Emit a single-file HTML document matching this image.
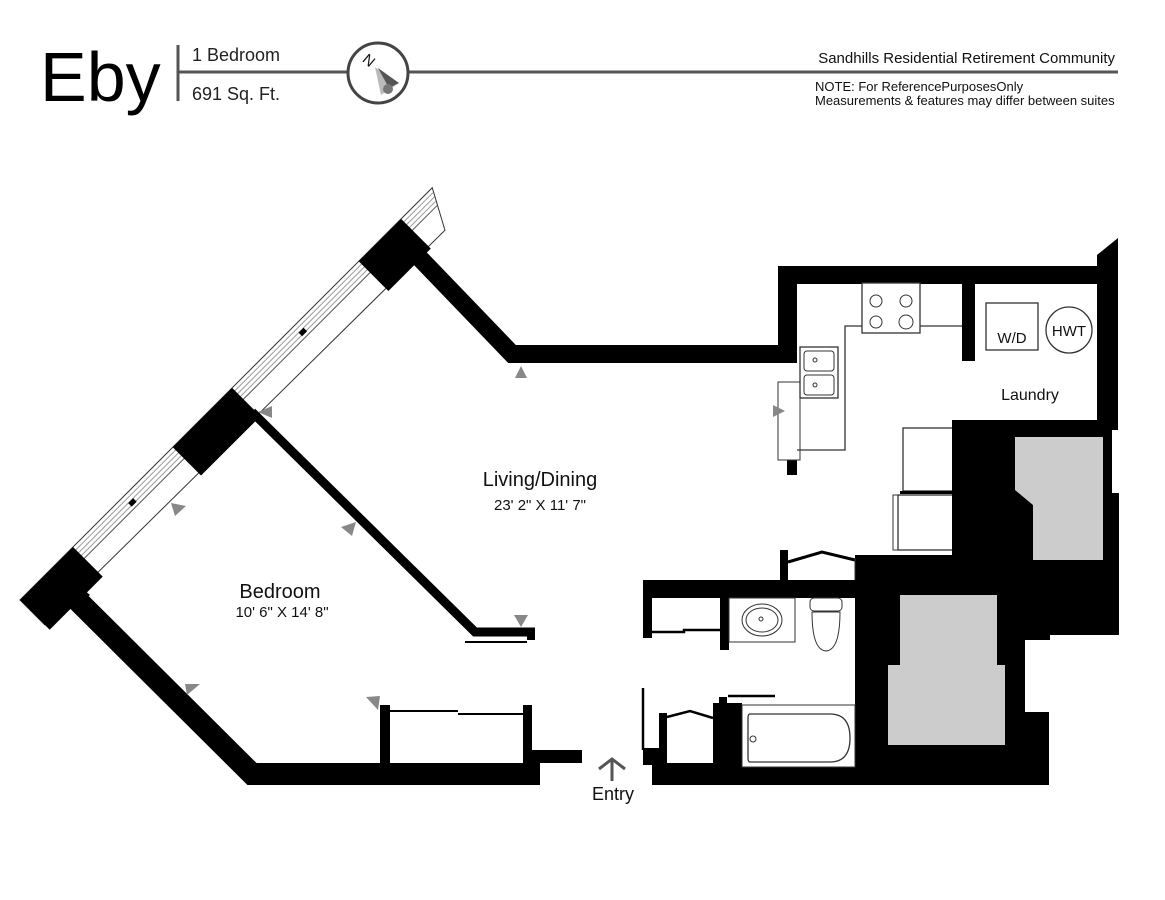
<!DOCTYPE html>
<html><head><meta charset="utf-8"><style>
html,body{margin:0;padding:0;background:#fff;}
svg{display:block;font-family:"Liberation Sans",sans-serif;}
</style></head><body>
<svg width="1165" height="900" viewBox="0 0 1165 900" xmlns="http://www.w3.org/2000/svg">
<!-- header -->
<text x="40" y="101" font-size="70" fill="#000">Eby</text>
<line x1="178" y1="45" x2="178" y2="101" stroke="#555" stroke-width="3"/>
<line x1="178" y1="72" x2="1118" y2="72" stroke="#555" stroke-width="3"/>
<text x="192" y="61" font-size="18" fill="#222">1 Bedroom</text>
<text x="192" y="100" font-size="18" fill="#222">691 Sq. Ft.</text>
<circle cx="378" cy="73" r="30" fill="#fff" stroke="#444" stroke-width="3"/>
<polygon points="375,67 399,83 381,95" fill="#bbb"/>
<polygon points="378,68 399,83 389,88" fill="#555"/>
<circle cx="388" cy="89" r="5" fill="#777"/>
<text x="364" y="66" font-size="15" fill="#111" transform="rotate(40 370 60)">N</text>
<text x="1115" y="63" font-size="15" fill="#111" text-anchor="end">Sandhills Residential Retirement Community</text>
<text x="815" y="91" font-size="13" fill="#111">NOTE:  For ReferencePurposesOnly</text>
<text x="815" y="105" font-size="13" fill="#111">Measurements &amp; features may differ between suites</text>

<!-- window band along diagonal -->
<g transform="translate(20,600) rotate(-45)">
  <polygon points="0,0 583,0 562,39 0,35" fill="#fff" stroke="#333" stroke-width="1"/>
  <line x1="0" y1="4" x2="580" y2="4" stroke="#999" stroke-width="1"/>
  <line x1="0" y1="8" x2="578" y2="8" stroke="#999" stroke-width="1"/>
  <line x1="0" y1="12" x2="576" y2="12" stroke="#999" stroke-width="1"/>
  <line x1="0" y1="16" x2="574" y2="16" stroke="#555" stroke-width="1"/>
  <rect x="0" y="0" width="75" height="42" fill="#000"/>
  <rect x="216" y="0" width="84" height="40" fill="#000"/>
  <rect x="479" y="0" width="60" height="42" fill="#000"/>
  <rect x="145" y="8" width="7" height="5" fill="#000"/>
  <rect x="386" y="8" width="7" height="5" fill="#000"/>
</g>
<polygon points="20,600 55,565 90,595 66,612" fill="#000"/>

<!-- bedroom outer walls -->
<polyline points="72,595 252,774 540,774" fill="none" stroke="#000" stroke-width="22"/>
<rect x="530" y="750" width="52" height="13" fill="#000"/>
<!-- partition -->
<polyline points="252,412 475,632 535,632" fill="none" stroke="#000" stroke-width="9"/>
<rect x="527" y="628" width="8" height="12" fill="#000"/>
<line x1="465" y1="642" x2="527" y2="642" stroke="#000" stroke-width="2"/>
<!-- bedroom closet -->
<rect x="380" y="705" width="10" height="60" fill="#000"/>
<rect x="523" y="705" width="9" height="60" fill="#000"/>
<line x1="390" y1="711" x2="458" y2="711" stroke="#000" stroke-width="2"/>
<line x1="458" y1="714" x2="523" y2="714" stroke="#000" stroke-width="2"/>

<!-- living top wall -->
<polyline points="412,250 512,354 790,354" fill="none" stroke="#000" stroke-width="18"/>
<!-- kitchen walls -->
<rect x="778" y="266" width="322" height="18" fill="#000"/>
<rect x="778" y="266" width="19" height="97" fill="#000"/>
<polygon points="1097,255 1118,238 1118,430 1097,430" fill="#000"/>
<rect x="962" y="283" width="13" height="78" fill="#000"/>
<rect x="787" y="455" width="10" height="20" fill="#000"/>
<rect x="778" y="382" width="22" height="78" fill="#fff" stroke="#333" stroke-width="1"/>
<!-- counters -->
<polyline points="962,326 845,326 845,450 797,450" fill="none" stroke="#333" stroke-width="1.3"/>
<rect x="862" y="283" width="58" height="50" fill="#fff" stroke="#333" stroke-width="1.3"/>
<circle cx="876" cy="301" r="6" fill="none" stroke="#333"/>
<circle cx="906" cy="301" r="6" fill="none" stroke="#333"/>
<circle cx="876" cy="322" r="6" fill="none" stroke="#333"/>
<circle cx="906" cy="322" r="7" fill="none" stroke="#333"/>
<rect x="800" y="347" width="38" height="51" fill="#fff" stroke="#333" stroke-width="1.3"/>
<rect x="804" y="351" width="30" height="20" rx="3" fill="none" stroke="#333"/>
<rect x="804" y="375" width="30" height="20" rx="3" fill="none" stroke="#333"/>
<circle cx="815" cy="360" r="2" fill="none" stroke="#333"/>
<circle cx="815" cy="385" r="2" fill="none" stroke="#333"/>
<!-- laundry -->
<rect x="986" y="303" width="52" height="47" fill="#fff" stroke="#333" stroke-width="1.3"/>
<text x="1012" y="343" font-size="15" text-anchor="middle" fill="#111">W/D</text>
<circle cx="1069" cy="330" r="23" fill="#fff" stroke="#333" stroke-width="1.3"/>
<text x="1069" y="336" font-size="15" text-anchor="middle" fill="#111">HWT</text>
<text x="1030" y="400" font-size="16" text-anchor="middle" fill="#111">Laundry</text>
<!-- fridge -->
<rect x="903" y="428" width="50" height="63" fill="#fff" stroke="#333" stroke-width="1.3"/>
<rect x="900" y="491" width="53" height="3" fill="#000"/>
<rect x="893" y="495" width="5" height="55" fill="#fff" stroke="#333"/>
<rect x="898" y="495" width="55" height="55" fill="#fff" stroke="#333" stroke-width="1.3"/>

<!-- right black block -->
<polygon points="952,420 1118,420 1118,430 1112,430 1112,493 1119,493 1119,635 1050,635 1050,640 1025,640 1025,712 1049,712 1049,750 1049,785 652,785 652,763 855,763 855,555 952,555" fill="#000"/>
<polygon points="1015,437 1103,437 1103,560 1033,560 1033,505 1015,490" fill="#ccc"/>
<polygon points="900,595 997,595 997,665 1005,665 1005,745 888,745 888,665 900,665" fill="#ccc"/>

<!-- pantry door -->
<rect x="780" y="550" width="8" height="30" fill="#000"/>
<polyline points="788,562 822,552 855,560" fill="none" stroke="#000" stroke-width="3"/>
<line x1="855" y1="558" x2="855" y2="580" stroke="#333"/>

<!-- bathroom -->
<rect x="643" y="580" width="212" height="18" fill="#000"/>
<rect x="643" y="580" width="9" height="58" fill="#000"/>
<rect x="720" y="598" width="9" height="52" fill="#000"/>
<polyline points="652,632 684,632 684,630 720,630" fill="none" stroke="#000" stroke-width="2.5"/>
<rect x="729" y="598" width="66" height="44" fill="#fff" stroke="#333"/>
<ellipse cx="762" cy="620" rx="20" ry="16" fill="none" stroke="#333"/>
<ellipse cx="762" cy="620" rx="16" ry="12" fill="none" stroke="#333"/>
<circle cx="761" cy="619" r="2" fill="none" stroke="#333"/>
<rect x="810" y="598" width="32" height="13" rx="4" fill="#fff" stroke="#333"/>
<path d="M812,612 Q812,650 826,651 Q840,650 840,612 Z" fill="#fff" stroke="#333"/>
<rect x="713" y="703" width="29" height="63" fill="#000"/>
<rect x="719" y="697" width="8" height="8" fill="#000"/>
<line x1="728" y1="696" x2="775" y2="696" stroke="#000" stroke-width="2.5"/>
<rect x="742" y="705" width="113" height="62" fill="#fff" stroke="#333"/>
<path d="M750,714 L830,714 Q850,714 850,738 Q850,762 830,762 L750,762 Q748,762 748,758 L748,718 Q748,714 750,714 Z" fill="none" stroke="#333" stroke-width="1.3"/>
<circle cx="753" cy="739" r="3" fill="none" stroke="#333"/>
<!-- lower closet -->
<rect x="659" y="713" width="8" height="52" fill="#000"/>
<rect x="643" y="748" width="18" height="17" fill="#000"/>
<line x1="643" y1="688" x2="643" y2="750" stroke="#000" stroke-width="2.5"/>
<polyline points="667,717 690,711 713,718" fill="none" stroke="#000" stroke-width="2.5"/>

<!-- gray markers -->
<g fill="#888">
<polygon points="521,366 515,378 527,378"/>
<polygon points="258,412 272,406 272,418"/>
<polygon points="171,503 186,506 175,516"/>
<polygon points="341,527 356,522 352,536"/>
<polygon points="514,615 528,615 521,627"/>
<polygon points="185,684 200,684 187,695"/>
<polygon points="366,697 380,696 378,710"/>
<polygon points="773,405 773,417 785,411"/>
</g>

<!-- labels -->
<text x="540" y="486" font-size="20" text-anchor="middle" fill="#111">Living/Dining</text>
<text x="540" y="510" font-size="15" text-anchor="middle" fill="#111">23' 2" X 11' 7"</text>
<text x="280" y="598" font-size="20" text-anchor="middle" fill="#111">Bedroom</text>
<text x="282" y="617" font-size="15" text-anchor="middle" fill="#111">10' 6" X 14' 8"</text>
<polyline points="599,769 612,759 625,769" fill="none" stroke="#555" stroke-width="3"/>
<line x1="612" y1="760" x2="612" y2="781" stroke="#555" stroke-width="3"/>
<text x="613" y="800" font-size="18" text-anchor="middle" fill="#111">Entry</text>
</svg>
</body></html>
